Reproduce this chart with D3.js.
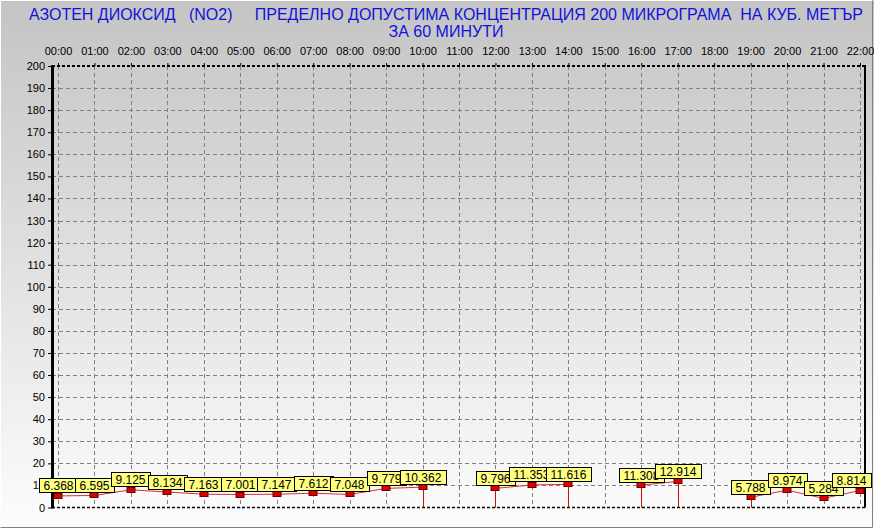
<!DOCTYPE html>
<html><head><meta charset="utf-8">
<script src="https://cdn.jsdelivr.net/npm/d3@7"></script>
<style>
html,body{margin:0;padding:0;background:#fff;}
svg{display:block;font-family:Arial,"Liberation Sans",sans-serif;}
</style></head>
<body><svg id="c" width="874" height="529"></svg>
<script>
const hours = ["00:00","01:00","02:00","03:00","04:00","05:00","06:00","07:00","08:00","09:00","10:00","11:00","12:00","13:00","14:00","15:00","16:00","17:00","18:00","19:00","20:00","21:00","22:00"];
const values = [6.368,6.595,9.125,8.134,7.163,7.001,7.147,7.612,7.048,9.779,10.362,null,9.796,11.353,11.616,null,11.308,12.914,null,5.788,8.974,5.284,8.814];
const yTicks = d3.range(0,201,10);
const titleLines = ["АЗОТЕН ДИОКСИД   (NO2)     ПРЕДЕЛНО ДОПУСТИМА КОНЦЕНТРАЦИЯ 200 МИКРОГРАМА  НА КУБ. МЕТЪР","ЗА 60 МИНУТИ"];

const W=874,H=529;
const plot={l:52,r:865,t:66,b:507.5};
const svg=d3.select("#c");
const defs=svg.append("defs");
const g=defs.append("linearGradient").attr("id","bg").attr("x1",0).attr("y1",0).attr("x2",0).attr("y2",1);
g.append("stop").attr("offset","0%").attr("stop-color","#c4c4c4");
g.append("stop").attr("offset","100%").attr("stop-color","#fdfdfd");
svg.append("rect").attr("width",W).attr("height",H).attr("fill","url(#bg)");
svg.append("path").attr("d",`M0.5,${H-1}V0.5H${W-1}`).attr("stroke","#ffffff").attr("fill","none");
svg.append("path").attr("d",`M${W-1.5},0.5V${H-1.5}H0.5`).attr("stroke","#808080").attr("fill","none");

const x=d3.scalePoint().domain(hours).range([58,860]);
const y=d3.scaleLinear().domain([0,200]).range([plot.b,plot.t]);

// title
const tt=svg.append("text").attr("text-anchor","middle").attr("fill","#1212dc").style("font-size","16px").style("white-space","pre");
tt.selectAll("tspan").data(titleLines).join("tspan").attr("x",446).attr("y",(d,i)=>20+i*17).text(d=>d);

// grid
const grid=svg.append("g").attr("stroke","#808080").attr("stroke-dasharray","4,3").attr("stroke-width",1);
grid.selectAll("line.v").data(hours).join("line").attr("class","v")
  .attr("x1",d=>Math.round(x(d))+0.5).attr("x2",d=>Math.round(x(d))+0.5).attr("y1",plot.t).attr("y2",plot.b);
grid.selectAll("line.h").data(yTicks.filter(v=>v>0&&v<200)).join("line").attr("class","h")
  .attr("x1",plot.l).attr("x2",plot.r).attr("y1",d=>Math.round(y(d))+0.5).attr("y2",d=>Math.round(y(d))+0.5);

// frame
svg.append("line").attr("x1",plot.l).attr("x2",plot.r).attr("y1",plot.t).attr("y2",plot.t).attr("stroke","#000").attr("stroke-width",2).attr("stroke-dasharray","3,2");
svg.append("line").attr("x1",plot.l).attr("x2",plot.r).attr("y1",plot.b).attr("y2",plot.b).attr("stroke","#000").attr("stroke-width",1.5).attr("stroke-dasharray","3,2");
svg.append("line").attr("x1",plot.r).attr("x2",plot.r).attr("y1",plot.t-1).attr("y2",plot.b).attr("stroke","#000").attr("stroke-width",2);

// axes
const ax=svg.append("g").attr("transform",`translate(0,${plot.t})`)
  .call(d3.axisTop(x).tickSize(3).tickPadding(8));
ax.select(".domain").remove();
ax.selectAll("text").style("font-size","11px").attr("fill","#000").attr("font-family","Arial");
ax.selectAll("line").attr("stroke","#000");

const ay=svg.append("g").attr("transform",`translate(${plot.l},0)`)
  .call(d3.axisLeft(y).tickValues(yTicks).tickSize(4).tickPadding(3));
ay.select(".domain").remove();
ay.selectAll("text").style("font-size","11px").attr("fill","#000").attr("font-family","Arial");
ay.selectAll("line").attr("stroke","#000");
svg.append("line").attr("x1",plot.l+0.5).attr("x2",plot.l+0.5).attr("y1",plot.t-1).attr("y2",plot.b+1).attr("stroke","#000").attr("stroke-width",3);

// series
const pts=hours.map((h,i)=>({h,v:values[i],i}));
const off=2.5;
const line=d3.line().defined(d=>d.v!==null).x(d=>x(d.h)).y(d=>y(d.v)+off);
svg.append("path").datum(pts).attr("d",line).attr("fill","none").attr("stroke","#d83030").attr("stroke-width",1);
const drops=pts.filter(d=>d.v!==null&&((d.i>0&&values[d.i-1]===null)||(d.i<values.length-1&&values[d.i+1]===null)));
svg.selectAll("line.drop").data(drops).join("line").attr("class","drop")
  .attr("x1",d=>Math.round(x(d.h))+0.5).attr("x2",d=>Math.round(x(d.h))+0.5)
  .attr("y1",d=>y(d.v)+off).attr("y2",y(0)).attr("stroke","#c01010").attr("stroke-width",1);

const valid=pts.filter(d=>d.v!==null);
svg.selectAll("rect.mk").data(valid).join("rect").attr("class","mk")
  .attr("x",d=>Math.round(x(d.h))-4).attr("y",d=>Math.round(y(d.v)+off)-2.5)
  .attr("width",8).attr("height",5).attr("fill","#dd0000").attr("stroke","#700000").attr("stroke-width",1);

// labels
const lg=svg.append("g");
valid.forEach(d=>{
  const gg=lg.append("g");
  const t=gg.append("text").attr("text-anchor","middle")
    .style("font-size","12px").attr("fill","#000").text(d3.format(".3f")(d.v));
  const bb=t.node().getBBox();
  const bw=Math.round(bb.width+9);
  let bx=Math.round(x(d.h)-bw/2);
  if(bx+bw>W-3) bx=W-3-bw;
  const by=Math.round(y(d.v))-15;
  t.attr("x",bx+bw/2).attr("y",by+12);
  gg.insert("rect","text").attr("x",bx+0.5).attr("y",by+0.5)
    .attr("width",bw).attr("height",14).attr("fill","#ffff80").attr("stroke","#000").attr("stroke-width",1);
});
</script></body></html>
